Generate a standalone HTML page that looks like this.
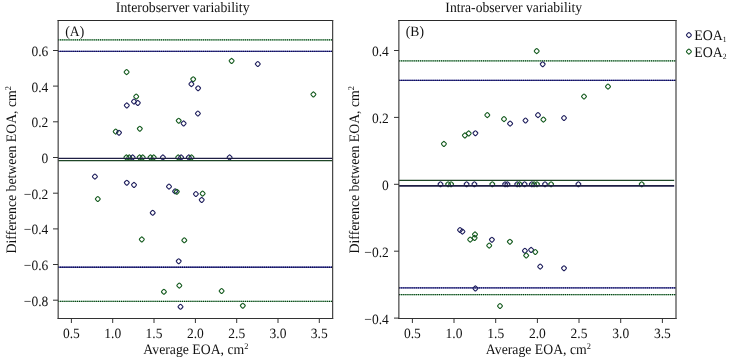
<!DOCTYPE html>
<html><head><meta charset="utf-8"><style>
html,body{margin:0;padding:0;background:#fff;}
svg{display:block;will-change:transform;}
text{font-family:"Liberation Serif", serif;fill:#111;text-rendering:geometricPrecision;}
</style></head><body>
<svg width="730" height="358" viewBox="0 0 730 358">
<rect width="730" height="358" fill="#fff"/>
<line x1="58" y1="39.8" x2="332.5" y2="39.8" stroke="#8fcf9f" stroke-width="1.35"/><line x1="58" y1="39.8" x2="332.5" y2="39.8" stroke="#06300f" stroke-width="1.35" stroke-dasharray="1.1 1"/>
<line x1="58" y1="51.3" x2="332.5" y2="51.3" stroke="#4646b0" stroke-width="1.35"/><line x1="58" y1="51.3" x2="332.5" y2="51.3" stroke="#0c0c40" stroke-width="1.35" stroke-dasharray="1.1 1"/>
<line x1="58" y1="267.2" x2="332.5" y2="267.2" stroke="#4646b0" stroke-width="1.35"/><line x1="58" y1="267.2" x2="332.5" y2="267.2" stroke="#0c0c40" stroke-width="1.35" stroke-dasharray="1.1 1"/>
<line x1="58" y1="301.4" x2="332.5" y2="301.4" stroke="#8fcf9f" stroke-width="1.35"/><line x1="58" y1="301.4" x2="332.5" y2="301.4" stroke="#06300f" stroke-width="1.35" stroke-dasharray="1.1 1"/>
<rect x="-2.0" y="-2.0" width="4.0" height="4.0" rx="1.0" transform="translate(126.6,72.1) rotate(45)" fill="none" stroke="#145a1e" stroke-width="1.1"/>
<rect x="-2.0" y="-2.0" width="4.0" height="4.0" rx="1.0" transform="translate(193.2,79.2) rotate(45)" fill="none" stroke="#145a1e" stroke-width="1.1"/>
<rect x="-2.0" y="-2.0" width="4.0" height="4.0" rx="1.0" transform="translate(191.4,84.1) rotate(45)" fill="none" stroke="#1e1e5c" stroke-width="1.1"/>
<rect x="-2.0" y="-2.0" width="4.0" height="4.0" rx="1.0" transform="translate(198.1,88.2) rotate(45)" fill="none" stroke="#1e1e5c" stroke-width="1.1"/>
<rect x="-2.0" y="-2.0" width="4.0" height="4.0" rx="1.0" transform="translate(136.2,96.6) rotate(45)" fill="none" stroke="#145a1e" stroke-width="1.1"/>
<rect x="-2.0" y="-2.0" width="4.0" height="4.0" rx="1.0" transform="translate(231.6,60.9) rotate(45)" fill="none" stroke="#145a1e" stroke-width="1.1"/>
<rect x="-2.0" y="-2.0" width="4.0" height="4.0" rx="1.0" transform="translate(257.8,64.0) rotate(45)" fill="none" stroke="#1e1e5c" stroke-width="1.1"/>
<rect x="-2.0" y="-2.0" width="4.0" height="4.0" rx="1.0" transform="translate(313.4,94.4) rotate(45)" fill="none" stroke="#145a1e" stroke-width="1.1"/>
<rect x="-2.0" y="-2.0" width="4.0" height="4.0" rx="1.0" transform="translate(126.8,105.4) rotate(45)" fill="none" stroke="#1e1e5c" stroke-width="1.1"/>
<rect x="-2.0" y="-2.0" width="4.0" height="4.0" rx="1.0" transform="translate(134.0,101.6) rotate(45)" fill="none" stroke="#1e1e5c" stroke-width="1.1"/>
<rect x="-2.0" y="-2.0" width="4.0" height="4.0" rx="1.0" transform="translate(137.8,102.9) rotate(45)" fill="none" stroke="#1e1e5c" stroke-width="1.1"/>
<rect x="-2.0" y="-2.0" width="4.0" height="4.0" rx="1.0" transform="translate(197.9,113.5) rotate(45)" fill="none" stroke="#1e1e5c" stroke-width="1.1"/>
<rect x="-2.0" y="-2.0" width="4.0" height="4.0" rx="1.0" transform="translate(178.7,120.7) rotate(45)" fill="none" stroke="#145a1e" stroke-width="1.1"/>
<rect x="-2.0" y="-2.0" width="4.0" height="4.0" rx="1.0" transform="translate(183.6,123.4) rotate(45)" fill="none" stroke="#1e1e5c" stroke-width="1.1"/>
<rect x="-2.0" y="-2.0" width="4.0" height="4.0" rx="1.0" transform="translate(139.8,128.7) rotate(45)" fill="none" stroke="#145a1e" stroke-width="1.1"/>
<rect x="-2.0" y="-2.0" width="4.0" height="4.0" rx="1.0" transform="translate(115.7,131.6) rotate(45)" fill="none" stroke="#145a1e" stroke-width="1.1"/>
<rect x="-2.0" y="-2.0" width="4.0" height="4.0" rx="1.0" transform="translate(119.0,132.7) rotate(45)" fill="none" stroke="#1e1e5c" stroke-width="1.1"/>
<rect x="-2.0" y="-2.0" width="4.0" height="4.0" rx="1.0" transform="translate(94.9,176.6) rotate(45)" fill="none" stroke="#1e1e5c" stroke-width="1.1"/>
<rect x="-2.0" y="-2.0" width="4.0" height="4.0" rx="1.0" transform="translate(97.8,199.0) rotate(45)" fill="none" stroke="#145a1e" stroke-width="1.1"/>
<rect x="-2.0" y="-2.0" width="4.0" height="4.0" rx="1.0" transform="translate(126.8,182.7) rotate(45)" fill="none" stroke="#1e1e5c" stroke-width="1.1"/>
<rect x="-2.0" y="-2.0" width="4.0" height="4.0" rx="1.0" transform="translate(134.0,184.9) rotate(45)" fill="none" stroke="#1e1e5c" stroke-width="1.1"/>
<rect x="-2.0" y="-2.0" width="4.0" height="4.0" rx="1.0" transform="translate(169.0,186.6) rotate(45)" fill="none" stroke="#1e1e5c" stroke-width="1.1"/>
<rect x="-2.0" y="-2.0" width="4.0" height="4.0" rx="1.0" transform="translate(175.1,191.3) rotate(45)" fill="none" stroke="#1e1e5c" stroke-width="1.1"/>
<rect x="-2.0" y="-2.0" width="4.0" height="4.0" rx="1.0" transform="translate(176.8,191.7) rotate(45)" fill="none" stroke="#145a1e" stroke-width="1.1"/>
<rect x="-2.0" y="-2.0" width="4.0" height="4.0" rx="1.0" transform="translate(195.9,194.0) rotate(45)" fill="none" stroke="#1e1e5c" stroke-width="1.1"/>
<rect x="-2.0" y="-2.0" width="4.0" height="4.0" rx="1.0" transform="translate(202.6,193.6) rotate(45)" fill="none" stroke="#145a1e" stroke-width="1.1"/>
<rect x="-2.0" y="-2.0" width="4.0" height="4.0" rx="1.0" transform="translate(201.7,199.9) rotate(45)" fill="none" stroke="#1e1e5c" stroke-width="1.1"/>
<rect x="-2.0" y="-2.0" width="4.0" height="4.0" rx="1.0" transform="translate(152.7,212.8) rotate(45)" fill="none" stroke="#1e1e5c" stroke-width="1.1"/>
<rect x="-2.0" y="-2.0" width="4.0" height="4.0" rx="1.0" transform="translate(141.8,239.4) rotate(45)" fill="none" stroke="#145a1e" stroke-width="1.1"/>
<rect x="-2.0" y="-2.0" width="4.0" height="4.0" rx="1.0" transform="translate(184.3,240.3) rotate(45)" fill="none" stroke="#145a1e" stroke-width="1.1"/>
<rect x="-2.0" y="-2.0" width="4.0" height="4.0" rx="1.0" transform="translate(178.7,261.2) rotate(45)" fill="none" stroke="#1e1e5c" stroke-width="1.1"/>
<rect x="-2.0" y="-2.0" width="4.0" height="4.0" rx="1.0" transform="translate(179.3,285.6) rotate(45)" fill="none" stroke="#145a1e" stroke-width="1.1"/>
<rect x="-2.0" y="-2.0" width="4.0" height="4.0" rx="1.0" transform="translate(163.9,291.8) rotate(45)" fill="none" stroke="#145a1e" stroke-width="1.1"/>
<rect x="-2.0" y="-2.0" width="4.0" height="4.0" rx="1.0" transform="translate(180.5,306.8) rotate(45)" fill="none" stroke="#1e1e5c" stroke-width="1.1"/>
<rect x="-2.0" y="-2.0" width="4.0" height="4.0" rx="1.0" transform="translate(221.6,291.0) rotate(45)" fill="none" stroke="#145a1e" stroke-width="1.1"/>
<rect x="-2.0" y="-2.0" width="4.0" height="4.0" rx="1.0" transform="translate(242.8,305.7) rotate(45)" fill="none" stroke="#145a1e" stroke-width="1.1"/>
<rect x="-2.0" y="-2.0" width="4.0" height="4.0" rx="1.0" transform="translate(126.4,157.4) rotate(45)" fill="none" stroke="#145a1e" stroke-width="1.1"/>
<rect x="-2.0" y="-2.0" width="4.0" height="4.0" rx="1.0" transform="translate(129.3,157.4) rotate(45)" fill="none" stroke="#145a1e" stroke-width="1.1"/>
<rect x="-2.0" y="-2.0" width="4.0" height="4.0" rx="1.0" transform="translate(132.6,157.4) rotate(45)" fill="none" stroke="#1e1e5c" stroke-width="1.1"/>
<rect x="-2.0" y="-2.0" width="4.0" height="4.0" rx="1.0" transform="translate(139.6,157.4) rotate(45)" fill="none" stroke="#145a1e" stroke-width="1.1"/>
<rect x="-2.0" y="-2.0" width="4.0" height="4.0" rx="1.0" transform="translate(142.7,157.4) rotate(45)" fill="none" stroke="#145a1e" stroke-width="1.1"/>
<rect x="-2.0" y="-2.0" width="4.0" height="4.0" rx="1.0" transform="translate(150.5,157.4) rotate(45)" fill="none" stroke="#145a1e" stroke-width="1.1"/>
<rect x="-2.0" y="-2.0" width="4.0" height="4.0" rx="1.0" transform="translate(153.7,157.4) rotate(45)" fill="none" stroke="#145a1e" stroke-width="1.1"/>
<rect x="-2.0" y="-2.0" width="4.0" height="4.0" rx="1.0" transform="translate(162.9,157.4) rotate(45)" fill="none" stroke="#1e1e5c" stroke-width="1.1"/>
<rect x="-2.0" y="-2.0" width="4.0" height="4.0" rx="1.0" transform="translate(178.2,157.4) rotate(45)" fill="none" stroke="#145a1e" stroke-width="1.1"/>
<rect x="-2.0" y="-2.0" width="4.0" height="4.0" rx="1.0" transform="translate(181.1,157.4) rotate(45)" fill="none" stroke="#1e1e5c" stroke-width="1.1"/>
<rect x="-2.0" y="-2.0" width="4.0" height="4.0" rx="1.0" transform="translate(188.8,157.4) rotate(45)" fill="none" stroke="#1e1e5c" stroke-width="1.1"/>
<rect x="-2.0" y="-2.0" width="4.0" height="4.0" rx="1.0" transform="translate(191.5,157.4) rotate(45)" fill="none" stroke="#145a1e" stroke-width="1.1"/>
<rect x="-2.0" y="-2.0" width="4.0" height="4.0" rx="1.0" transform="translate(229.6,157.4) rotate(45)" fill="none" stroke="#1e1e5c" stroke-width="1.1"/>
<line x1="58" y1="158.45" x2="332.5" y2="158.45" stroke="#1e1e44" stroke-width="1.2"/>
<line x1="58" y1="160.55" x2="332.5" y2="160.55" stroke="#1e4626" stroke-width="1.2"/>
<line x1="58.17" y1="20" x2="58.17" y2="319" stroke="#444" stroke-width="1.2"/>
<line x1="57.6" y1="20.55" x2="333.2" y2="20.55" stroke="#2a2a2a" stroke-width="1.1"/>
<line x1="57.6" y1="318.5" x2="333.2" y2="318.5" stroke="#333" stroke-width="1.1"/>
<line x1="332.65" y1="20" x2="332.65" y2="319" stroke="#3a3a3a" stroke-width="1.15"/>
<line x1="53" y1="50.5" x2="58" y2="50.5" stroke="#333" stroke-width="1"/>
<text transform="translate(48.3,55.9) scale(1,1.05)" text-anchor="end" font-size="13.5" >0.6</text>
<line x1="53" y1="86.1" x2="58" y2="86.1" stroke="#333" stroke-width="1"/>
<text transform="translate(48.3,91.5) scale(1,1.05)" text-anchor="end" font-size="13.5" >0.4</text>
<line x1="53" y1="121.8" x2="58" y2="121.8" stroke="#333" stroke-width="1"/>
<text transform="translate(48.3,127.2) scale(1,1.05)" text-anchor="end" font-size="13.5" >0.2</text>
<line x1="53" y1="157.5" x2="58" y2="157.5" stroke="#333" stroke-width="1"/>
<text transform="translate(48.3,162.9) scale(1,1.05)" text-anchor="end" font-size="13.5" >0</text>
<line x1="53" y1="193.2" x2="58" y2="193.2" stroke="#333" stroke-width="1"/>
<text transform="translate(48.3,198.6) scale(1,1.05)" text-anchor="end" font-size="13.5" >−0.2</text>
<line x1="53" y1="228.9" x2="58" y2="228.9" stroke="#333" stroke-width="1"/>
<text transform="translate(48.3,234.3) scale(1,1.05)" text-anchor="end" font-size="13.5" >−0.4</text>
<line x1="53" y1="264.5" x2="58" y2="264.5" stroke="#333" stroke-width="1"/>
<text transform="translate(48.3,269.9) scale(1,1.05)" text-anchor="end" font-size="13.5" >−0.6</text>
<line x1="53" y1="300.2" x2="58" y2="300.2" stroke="#333" stroke-width="1"/>
<text transform="translate(48.3,305.6) scale(1,1.05)" text-anchor="end" font-size="13.5" >−0.8</text>
<line x1="71.4" y1="318" x2="71.4" y2="323" stroke="#333" stroke-width="1"/>
<text transform="translate(71.4,337.6) scale(1,1.05)" text-anchor="middle" font-size="13.5" >0.5</text>
<line x1="112.7" y1="318" x2="112.7" y2="323" stroke="#333" stroke-width="1"/>
<text transform="translate(112.7,337.6) scale(1,1.05)" text-anchor="middle" font-size="13.5" >1.0</text>
<line x1="154.0" y1="318" x2="154.0" y2="323" stroke="#333" stroke-width="1"/>
<text transform="translate(154.0,337.6) scale(1,1.05)" text-anchor="middle" font-size="13.5" >1.5</text>
<line x1="195.4" y1="318" x2="195.4" y2="323" stroke="#333" stroke-width="1"/>
<text transform="translate(195.4,337.6) scale(1,1.05)" text-anchor="middle" font-size="13.5" >2.0</text>
<line x1="236.7" y1="318" x2="236.7" y2="323" stroke="#333" stroke-width="1"/>
<text transform="translate(236.7,337.6) scale(1,1.05)" text-anchor="middle" font-size="13.5" >2.5</text>
<line x1="278.0" y1="318" x2="278.0" y2="323" stroke="#333" stroke-width="1"/>
<text transform="translate(278.0,337.6) scale(1,1.05)" text-anchor="middle" font-size="13.5" >3.0</text>
<line x1="319.3" y1="318" x2="319.3" y2="323" stroke="#333" stroke-width="1"/>
<text transform="translate(319.3,337.6) scale(1,1.05)" text-anchor="middle" font-size="13.5" >3.5</text>
<text transform="translate(65.3,35.5) scale(1,1.05)" text-anchor="start" font-size="13.6" >(A)</text>
<text transform="translate(182.7,12) scale(1,1.05)" text-anchor="middle" font-size="13.8" >Interobserver variability</text>
<text transform="translate(195.9,353.7) scale(1,1.05)" text-anchor="middle" font-size="13.75" >Average EOA, cm<tspan font-size="8.3" dy="-4.6">2</tspan></text>
<text transform="translate(15.9,253.4) rotate(-90) scale(1,1.05)" font-size="13.75">Difference between EOA, cm<tspan font-size="8.3" dy="-4.6">2</tspan></text>
<line x1="399" y1="60.8" x2="676" y2="60.8" stroke="#8fcf9f" stroke-width="1.35"/><line x1="399" y1="60.8" x2="676" y2="60.8" stroke="#06300f" stroke-width="1.35" stroke-dasharray="1.1 1"/>
<line x1="399" y1="80.4" x2="676" y2="80.4" stroke="#4646b0" stroke-width="1.35"/><line x1="399" y1="80.4" x2="676" y2="80.4" stroke="#0c0c40" stroke-width="1.35" stroke-dasharray="1.1 1"/>
<line x1="399" y1="287.8" x2="676" y2="287.8" stroke="#4646b0" stroke-width="1.35"/><line x1="399" y1="287.8" x2="676" y2="287.8" stroke="#0c0c40" stroke-width="1.35" stroke-dasharray="1.1 1"/>
<line x1="399" y1="294.6" x2="676" y2="294.6" stroke="#8fcf9f" stroke-width="1.35"/><line x1="399" y1="294.6" x2="676" y2="294.6" stroke="#06300f" stroke-width="1.35" stroke-dasharray="1.1 1"/>
<rect x="-2.0" y="-2.0" width="4.0" height="4.0" rx="1.0" transform="translate(536.7,51.1) rotate(45)" fill="none" stroke="#145a1e" stroke-width="1.1"/>
<rect x="-2.0" y="-2.0" width="4.0" height="4.0" rx="1.0" transform="translate(542.7,64.2) rotate(45)" fill="none" stroke="#1e1e5c" stroke-width="1.1"/>
<rect x="-2.0" y="-2.0" width="4.0" height="4.0" rx="1.0" transform="translate(608.0,86.6) rotate(45)" fill="none" stroke="#145a1e" stroke-width="1.1"/>
<rect x="-2.0" y="-2.0" width="4.0" height="4.0" rx="1.0" transform="translate(584.0,96.5) rotate(45)" fill="none" stroke="#145a1e" stroke-width="1.1"/>
<rect x="-2.0" y="-2.0" width="4.0" height="4.0" rx="1.0" transform="translate(443.9,143.9) rotate(45)" fill="none" stroke="#145a1e" stroke-width="1.1"/>
<rect x="-2.0" y="-2.0" width="4.0" height="4.0" rx="1.0" transform="translate(464.9,135.4) rotate(45)" fill="none" stroke="#145a1e" stroke-width="1.1"/>
<rect x="-2.0" y="-2.0" width="4.0" height="4.0" rx="1.0" transform="translate(468.7,133.4) rotate(45)" fill="none" stroke="#145a1e" stroke-width="1.1"/>
<rect x="-2.0" y="-2.0" width="4.0" height="4.0" rx="1.0" transform="translate(475.4,133.2) rotate(45)" fill="none" stroke="#1e1e5c" stroke-width="1.1"/>
<rect x="-2.0" y="-2.0" width="4.0" height="4.0" rx="1.0" transform="translate(487.3,115.1) rotate(45)" fill="none" stroke="#145a1e" stroke-width="1.1"/>
<rect x="-2.0" y="-2.0" width="4.0" height="4.0" rx="1.0" transform="translate(504.0,119.1) rotate(45)" fill="none" stroke="#145a1e" stroke-width="1.1"/>
<rect x="-2.0" y="-2.0" width="4.0" height="4.0" rx="1.0" transform="translate(510.1,123.6) rotate(45)" fill="none" stroke="#1e1e5c" stroke-width="1.1"/>
<rect x="-2.0" y="-2.0" width="4.0" height="4.0" rx="1.0" transform="translate(525.5,120.5) rotate(45)" fill="none" stroke="#1e1e5c" stroke-width="1.1"/>
<rect x="-2.0" y="-2.0" width="4.0" height="4.0" rx="1.0" transform="translate(538.0,115.1) rotate(45)" fill="none" stroke="#1e1e5c" stroke-width="1.1"/>
<rect x="-2.0" y="-2.0" width="4.0" height="4.0" rx="1.0" transform="translate(543.4,119.6) rotate(45)" fill="none" stroke="#145a1e" stroke-width="1.1"/>
<rect x="-2.0" y="-2.0" width="4.0" height="4.0" rx="1.0" transform="translate(564.0,118.0) rotate(45)" fill="none" stroke="#1e1e5c" stroke-width="1.1"/>
<rect x="-2.0" y="-2.0" width="4.0" height="4.0" rx="1.0" transform="translate(460.0,230.0) rotate(45)" fill="none" stroke="#1e1e5c" stroke-width="1.1"/>
<rect x="-2.0" y="-2.0" width="4.0" height="4.0" rx="1.0" transform="translate(462.4,231.6) rotate(45)" fill="none" stroke="#1e1e5c" stroke-width="1.1"/>
<rect x="-2.0" y="-2.0" width="4.0" height="4.0" rx="1.0" transform="translate(475.0,234.4) rotate(45)" fill="none" stroke="#145a1e" stroke-width="1.1"/>
<rect x="-2.0" y="-2.0" width="4.0" height="4.0" rx="1.0" transform="translate(474.6,237.9) rotate(45)" fill="none" stroke="#145a1e" stroke-width="1.1"/>
<rect x="-2.0" y="-2.0" width="4.0" height="4.0" rx="1.0" transform="translate(470.2,239.6) rotate(45)" fill="none" stroke="#145a1e" stroke-width="1.1"/>
<rect x="-2.0" y="-2.0" width="4.0" height="4.0" rx="1.0" transform="translate(491.9,239.7) rotate(45)" fill="none" stroke="#1e1e5c" stroke-width="1.1"/>
<rect x="-2.0" y="-2.0" width="4.0" height="4.0" rx="1.0" transform="translate(489.2,245.6) rotate(45)" fill="none" stroke="#145a1e" stroke-width="1.1"/>
<rect x="-2.0" y="-2.0" width="4.0" height="4.0" rx="1.0" transform="translate(509.9,241.7) rotate(45)" fill="none" stroke="#145a1e" stroke-width="1.1"/>
<rect x="-2.0" y="-2.0" width="4.0" height="4.0" rx="1.0" transform="translate(524.9,250.8) rotate(45)" fill="none" stroke="#1e1e5c" stroke-width="1.1"/>
<rect x="-2.0" y="-2.0" width="4.0" height="4.0" rx="1.0" transform="translate(526.2,255.5) rotate(45)" fill="none" stroke="#145a1e" stroke-width="1.1"/>
<rect x="-2.0" y="-2.0" width="4.0" height="4.0" rx="1.0" transform="translate(531.1,249.9) rotate(45)" fill="none" stroke="#1e1e5c" stroke-width="1.1"/>
<rect x="-2.0" y="-2.0" width="4.0" height="4.0" rx="1.0" transform="translate(535.3,252.0) rotate(45)" fill="none" stroke="#145a1e" stroke-width="1.1"/>
<rect x="-2.0" y="-2.0" width="4.0" height="4.0" rx="1.0" transform="translate(540.2,266.6) rotate(45)" fill="none" stroke="#1e1e5c" stroke-width="1.1"/>
<rect x="-2.0" y="-2.0" width="4.0" height="4.0" rx="1.0" transform="translate(564.0,268.2) rotate(45)" fill="none" stroke="#1e1e5c" stroke-width="1.1"/>
<rect x="-2.0" y="-2.0" width="4.0" height="4.0" rx="1.0" transform="translate(475.4,288.4) rotate(45)" fill="none" stroke="#1e1e5c" stroke-width="1.1"/>
<rect x="-2.0" y="-2.0" width="4.0" height="4.0" rx="1.0" transform="translate(500.0,306.0) rotate(45)" fill="none" stroke="#145a1e" stroke-width="1.1"/>
<rect x="-2.0" y="-2.0" width="4.0" height="4.0" rx="1.0" transform="translate(440.5,184.2) rotate(45)" fill="none" stroke="#1e1e5c" stroke-width="1.1"/>
<rect x="-2.0" y="-2.0" width="4.0" height="4.0" rx="1.0" transform="translate(448.1,184.2) rotate(45)" fill="none" stroke="#145a1e" stroke-width="1.1"/>
<rect x="-2.0" y="-2.0" width="4.0" height="4.0" rx="1.0" transform="translate(451.1,184.2) rotate(45)" fill="none" stroke="#145a1e" stroke-width="1.1"/>
<rect x="-2.0" y="-2.0" width="4.0" height="4.0" rx="1.0" transform="translate(466.6,184.2) rotate(45)" fill="none" stroke="#1e1e5c" stroke-width="1.1"/>
<rect x="-2.0" y="-2.0" width="4.0" height="4.0" rx="1.0" transform="translate(474.4,184.2) rotate(45)" fill="none" stroke="#1e1e5c" stroke-width="1.1"/>
<rect x="-2.0" y="-2.0" width="4.0" height="4.0" rx="1.0" transform="translate(492.3,184.2) rotate(45)" fill="none" stroke="#145a1e" stroke-width="1.1"/>
<rect x="-2.0" y="-2.0" width="4.0" height="4.0" rx="1.0" transform="translate(505.1,184.2) rotate(45)" fill="none" stroke="#1e1e5c" stroke-width="1.1"/>
<rect x="-2.0" y="-2.0" width="4.0" height="4.0" rx="1.0" transform="translate(507.4,184.2) rotate(45)" fill="none" stroke="#1e1e5c" stroke-width="1.1"/>
<rect x="-2.0" y="-2.0" width="4.0" height="4.0" rx="1.0" transform="translate(517.2,184.2) rotate(45)" fill="none" stroke="#1e1e5c" stroke-width="1.1"/>
<rect x="-2.0" y="-2.0" width="4.0" height="4.0" rx="1.0" transform="translate(519.6,184.2) rotate(45)" fill="none" stroke="#145a1e" stroke-width="1.1"/>
<rect x="-2.0" y="-2.0" width="4.0" height="4.0" rx="1.0" transform="translate(524.6,184.2) rotate(45)" fill="none" stroke="#1e1e5c" stroke-width="1.1"/>
<rect x="-2.0" y="-2.0" width="4.0" height="4.0" rx="1.0" transform="translate(531.8,184.2) rotate(45)" fill="none" stroke="#1e1e5c" stroke-width="1.1"/>
<rect x="-2.0" y="-2.0" width="4.0" height="4.0" rx="1.0" transform="translate(534.1,184.2) rotate(45)" fill="none" stroke="#145a1e" stroke-width="1.1"/>
<rect x="-2.0" y="-2.0" width="4.0" height="4.0" rx="1.0" transform="translate(537.0,184.2) rotate(45)" fill="none" stroke="#145a1e" stroke-width="1.1"/>
<rect x="-2.0" y="-2.0" width="4.0" height="4.0" rx="1.0" transform="translate(545.0,184.2) rotate(45)" fill="none" stroke="#1e1e5c" stroke-width="1.1"/>
<rect x="-2.0" y="-2.0" width="4.0" height="4.0" rx="1.0" transform="translate(551.1,184.2) rotate(45)" fill="none" stroke="#145a1e" stroke-width="1.1"/>
<rect x="-2.0" y="-2.0" width="4.0" height="4.0" rx="1.0" transform="translate(578.4,184.2) rotate(45)" fill="none" stroke="#1e1e5c" stroke-width="1.1"/>
<rect x="-2.0" y="-2.0" width="4.0" height="4.0" rx="1.0" transform="translate(641.7,184.2) rotate(45)" fill="none" stroke="#145a1e" stroke-width="1.1"/>
<line x1="399" y1="180.45" x2="674.2" y2="180.45" stroke="#1e4626" stroke-width="1.2"/>
<line x1="399" y1="185.9" x2="674.2" y2="185.9" stroke="#1e1e44" stroke-width="1.6"/>
<line x1="398.86" y1="20" x2="398.86" y2="319" stroke="#444" stroke-width="1.2"/>
<line x1="398.2" y1="20.55" x2="676.6" y2="20.55" stroke="#2a2a2a" stroke-width="1.1"/>
<line x1="398.2" y1="318.5" x2="676.6" y2="318.5" stroke="#333" stroke-width="1.1"/>
<line x1="676" y1="20" x2="676" y2="319" stroke="#444" stroke-width="1.2"/>
<line x1="394" y1="50.5" x2="399" y2="50.5" stroke="#333" stroke-width="1"/>
<text transform="translate(388.8,55.9) scale(1,1.05)" text-anchor="end" font-size="13.5" >0.4</text>
<line x1="394" y1="117.4" x2="399" y2="117.4" stroke="#333" stroke-width="1"/>
<text transform="translate(388.8,122.8) scale(1,1.05)" text-anchor="end" font-size="13.5" >0.2</text>
<line x1="394" y1="184.3" x2="399" y2="184.3" stroke="#333" stroke-width="1"/>
<text transform="translate(388.8,189.7) scale(1,1.05)" text-anchor="end" font-size="13.5" >0</text>
<line x1="394" y1="251.2" x2="399" y2="251.2" stroke="#333" stroke-width="1"/>
<text transform="translate(388.8,256.6) scale(1,1.05)" text-anchor="end" font-size="13.5" >−0.2</text>
<line x1="394" y1="318.1" x2="399" y2="318.1" stroke="#333" stroke-width="1"/>
<text transform="translate(388.8,323.5) scale(1,1.05)" text-anchor="end" font-size="13.5" >−0.4</text>
<line x1="412.4" y1="318" x2="412.4" y2="323" stroke="#333" stroke-width="1"/>
<text transform="translate(412.4,337.6) scale(1,1.05)" text-anchor="middle" font-size="13.5" >0.5</text>
<line x1="454.0" y1="318" x2="454.0" y2="323" stroke="#333" stroke-width="1"/>
<text transform="translate(454.0,337.6) scale(1,1.05)" text-anchor="middle" font-size="13.5" >1.0</text>
<line x1="495.7" y1="318" x2="495.7" y2="323" stroke="#333" stroke-width="1"/>
<text transform="translate(495.7,337.6) scale(1,1.05)" text-anchor="middle" font-size="13.5" >1.5</text>
<line x1="537.4" y1="318" x2="537.4" y2="323" stroke="#333" stroke-width="1"/>
<text transform="translate(537.4,337.6) scale(1,1.05)" text-anchor="middle" font-size="13.5" >2.0</text>
<line x1="579.0" y1="318" x2="579.0" y2="323" stroke="#333" stroke-width="1"/>
<text transform="translate(579.0,337.6) scale(1,1.05)" text-anchor="middle" font-size="13.5" >2.5</text>
<line x1="620.7" y1="318" x2="620.7" y2="323" stroke="#333" stroke-width="1"/>
<text transform="translate(620.7,337.6) scale(1,1.05)" text-anchor="middle" font-size="13.5" >3.0</text>
<line x1="662.4" y1="318" x2="662.4" y2="323" stroke="#333" stroke-width="1"/>
<text transform="translate(662.4,337.6) scale(1,1.05)" text-anchor="middle" font-size="13.5" >3.5</text>
<text transform="translate(405.8,35.5) scale(1,1.05)" text-anchor="start" font-size="13.6" >(B)</text>
<text transform="translate(513.7,12) scale(1,1.05)" text-anchor="middle" font-size="13.65" >Intra-observer variability</text>
<text transform="translate(538.4,353.7) scale(1,1.05)" text-anchor="middle" font-size="13.75" >Average EOA, cm<tspan font-size="8.3" dy="-4.6">2</tspan></text>
<text transform="translate(358.8,253.4) rotate(-90) scale(1,1.05)" font-size="13.75">Difference between EOA, cm<tspan font-size="8.3" dy="-4.6">2</tspan></text>
<rect x="-2.0" y="-2.0" width="4.0" height="4.0" rx="1.0" transform="translate(688.9,35.1) rotate(45)" fill="none" stroke="#1e1e5c" stroke-width="1.1"/>
<rect x="-2.0" y="-2.0" width="4.0" height="4.0" rx="1.0" transform="translate(688.9,51.6) rotate(45)" fill="none" stroke="#145a1e" stroke-width="1.1"/>
<text transform="translate(694.3,39.6) scale(1,1.05)" text-anchor="start" font-size="13.9" >EOA<tspan font-size="7.6" dy="2">1</tspan></text>
<text transform="translate(694.3,56.9) scale(1,1.05)" text-anchor="start" font-size="13.9" >EOA<tspan font-size="7.6" dy="2">2</tspan></text>
</svg>
</body></html>
